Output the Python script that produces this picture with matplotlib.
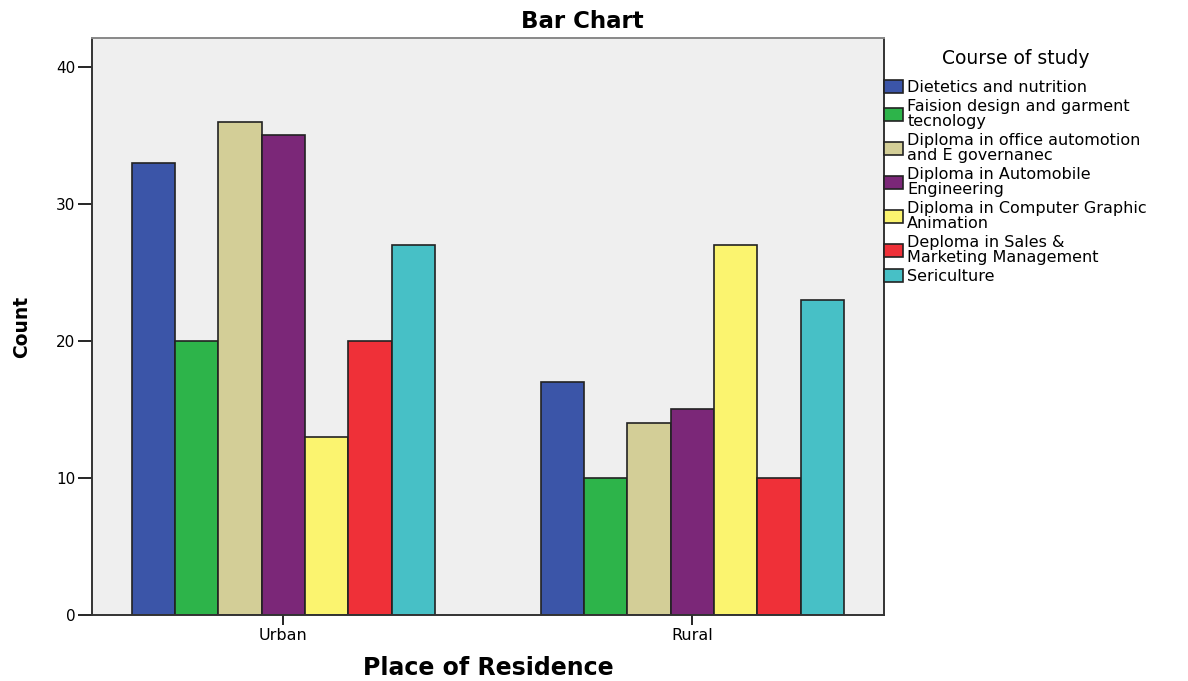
import numpy as np
import matplotlib.pyplot as plt
from matplotlib.patches import Patch

plt.rcParams['font.family'] = ['DejaVu Sans']

# data
places = ['Urban', 'Rural']
courses = ['Dietetics and nutrition',
           'Faision design and garment\ntecnology',
           'Diploma in office automotion\nand E governanec',
           'Diploma in Automobile\nEngineering',
           'Diploma in Computer Graphic\nAnimation',
           'Deploma in Sales &\nMarketing Management',
           'Sericulture']
urban = [33, 20, 36, 35, 13, 20, 27]
rural = [17, 10, 14, 15, 27, 10, 23]
colors = ['#3b55a8', '#2db44a', '#d3ce97', '#7b2778', '#fbf46f', '#ef3038', '#47c0c6']

W, H = 1188, 681
fig = plt.figure(figsize=(W / 100, H / 100), dpi=100)
ax = fig.add_axes([92/W, 1-615/H, 792/W, 577/H])
ax.set_facecolor('#efefef')

x = np.arange(len(places))
w = 0.106
counts = np.array([urban, rural])
for i, c in enumerate(courses):
    ax.bar(x + (i - 3) * w, counts[:, i], width=w, color=colors[i],
           edgecolor='#222222', linewidth=1.2, label=c, zorder=2)

ax.set_xlim(-0.468, 1.469)
ax.set_ylim(0, 42.1)
ax.set_yticks([0, 10, 20, 30, 40])
ax.set_xticks(x)
ax.set_xticklabels(places)
ax.tick_params(axis='y', length=10, width=1.2, labelsize=11, pad=2)
ax.tick_params(axis='x', length=7, width=1.2, labelsize=11.5, pad=2)
for s in ['left', 'bottom', 'right']:
    ax.spines[s].set_color('#333333')
    ax.spines[s].set_linewidth(1.4)
ax.spines['top'].set_color('#888888')
ax.spines['top'].set_linewidth(1.4)

# titles
fig.text(582/W, 1-28/H, 'Bar Chart', fontsize=16.5, fontweight='bold', ha='center', va='baseline')
fig.text(488/W, 1-675/H, 'Place of Residence', fontsize=17, fontweight='bold', ha='center', va='baseline')
fig.text(22/W, 1-327/H, 'Count', fontsize=13.5, fontweight='bold',
         rotation=90, ha='center', va='center')

handles = [Patch(facecolor=colors[i], edgecolor='#222222', linewidth=1.2) for i in range(len(courses))]
leg = fig.legend(handles, courses, loc='upper left', bbox_to_anchor=(884/W, 1-49/H),
                 frameon=False, fontsize=11.5, title='Course of study', title_fontsize=13.5,
                 borderpad=0, borderaxespad=0, handlelength=1.2, handleheight=0.9,
                 handletextpad=0.25, labelspacing=0.25)
for t in leg.get_texts():
    t.set_linespacing(1.0)
leg._legend_box.sep = 8.5  # gap between legend title and entries

fig.savefig('out.png', dpi=100)
